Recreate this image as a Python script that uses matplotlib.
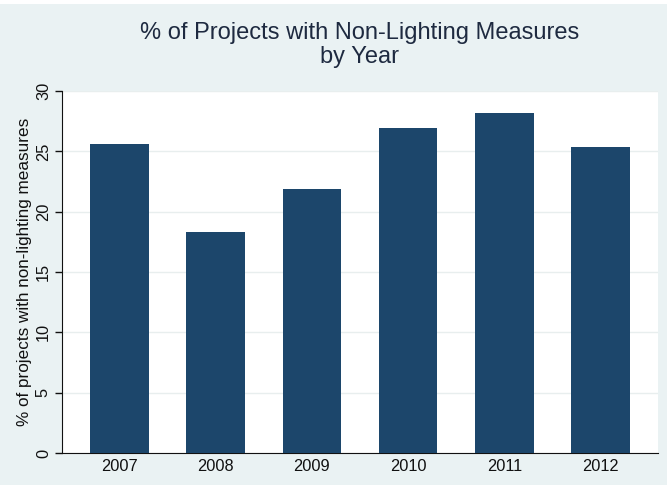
import matplotlib
matplotlib.use("Agg")
import matplotlib.pyplot as plt
from matplotlib.patches import Rectangle

years = ["2007", "2008", "2009", "2010", "2011", "2012"]
pct = [25.6, 18.3, 21.9, 26.9, 28.2, 25.4]
yticks = [0, 5, 10, 15, 20, 25, 30]

plt.rcParams['font.family'] = ['Liberation Sans', 'DejaVu Sans']
W, H = 667, 495
fig = plt.figure(figsize=(W/100, H/100), dpi=100, facecolor='white')
bg = Rectangle((0, 1 - 485/H), 1, (485-4)/H, transform=fig.transFigure,
               facecolor='#EAF2F3', edgecolor='none', zorder=-10)
fig.patches.append(bg)

ax = fig.add_axes([62/W, 1 - 453/H, (658-62)/W, (453-91)/H])
ax.set_facecolor('white')
x = range(len(years))
ax.bar(x, pct, width=0.61, color='#1c466b', zorder=3)
ax.set_xlim(-0.6, 5.6)
ax.set_ylim(0, 30)
ax.set_yticks(yticks)
ax.set_yticklabels([str(v) for v in yticks], rotation=90, va='center')
ax.set_xticks(list(x))
ax.set_xticklabels(years)
ax.tick_params(axis='x', length=0, pad=4, labelsize=11.8, colors='#111111')
ax.tick_params(axis='y', length=5, width=1, pad=3, labelsize=11.8, colors='#111111')
ax.grid(axis='y', color='#E8EEEE', linewidth=1, zorder=0)
for s in ['top', 'right']:
    ax.spines[s].set_visible(False)
ax.spines['left'].set_color('#111111')
ax.spines['bottom'].set_color('#111111')
ax.set_ylabel('% of projects with non-lighting measures', fontsize=12.3, labelpad=3, color='#111111')
fig.text(360/W, 1 - 45/H, '% of Projects with Non-Lighting Measures\nby Year',
         ha='center', va='center', fontsize=17, color='#1e2a40', linespacing=1.1)
fig.savefig('out.png', dpi=100, facecolor='white')
